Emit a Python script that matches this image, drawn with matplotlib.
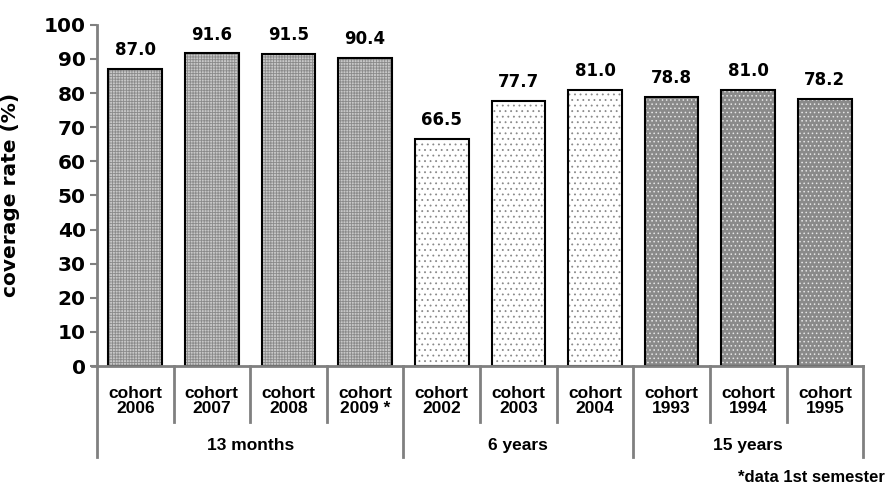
import matplotlib
matplotlib.use("Agg")
import matplotlib.pyplot as plt
import numpy as np

# --- données ---
cohortes = ["2006", "2007", "2008", "2009 *", "2002", "2003", "2004", "1993", "1994", "1995"]
couverture = [87.0, 91.6, 91.5, 90.4, 66.5, 77.7, 81.0, 78.8, 81.0, 78.2]
groupes = ["13 months", "6 years", "15 years"]
taille_groupes = [4, 3, 3]

# style par groupe : (fond, hachure, couleur hachure)
styles = [("#c8c8c8", "++++++", "#8a8a8a"),
          ("#ffffff", "...", "#8a8a8a"),
          ("#8a8a8a", "....", "#e6e6e6")]

plt.rcParams["hatch.linewidth"] = 0.6
gris = "#808080"

fig = plt.figure(figsize=(8.89, 4.96), dpi=100)
ax = fig.add_axes([0.109, 0.262, 0.862, 0.688])

x = np.arange(len(couverture))
idx_groupe = np.repeat(np.arange(len(groupes)), taille_groupes)

for xi, val, g in zip(x, couverture, idx_groupe):
    fond, hachure, coul = styles[g]
    ax.bar(xi, val, width=0.7, color=fond, hatch=hachure, edgecolor=coul, linewidth=0)
    ax.bar(xi, val, width=0.7, fill=False, edgecolor="black", linewidth=1.5)
    ax.annotate(f"{val:.1f}", (xi, val), xytext=(0, 7), textcoords="offset points",
                ha="center", va="bottom", fontsize=12, fontweight="bold",
                family="DejaVu Sans")

ax.set_xlim(-0.5, len(couverture) - 0.5)
ax.set_ylim(0, 100)
ax.set_yticks(np.arange(0, 101, 10))
ax.set_xticks([])
for lab in ax.get_yticklabels():
    lab.set_fontweight("bold")
ax.tick_params(axis="y", labelsize=14.5, length=5, width=1.5, color=gris, pad=3)

for s in ["top", "right"]:
    ax.spines[s].set_visible(False)
ax.spines["left"].set_color(gris)
ax.spines["left"].set_linewidth(2)
ax.spines["bottom"].set_visible(False)
# axe horizontal un peu prolongé à gauche
ax.plot([-0.57, len(couverture) - 0.5], [0, 0], color=gris, lw=2, clip_on=False)

ax.set_ylabel("coverage rate (%)", fontsize=14.5, fontweight="bold")
ax.yaxis.set_label_coords(-0.10, 0.5)

trans = ax.get_xaxis_transform()
# étiquettes de cohortes
for xi, c in zip(x, cohortes):
    ax.text(xi, -0.103, "cohort\n" + c, transform=trans, ha="center", va="center",
            fontsize=12.5, fontweight="bold", family="Liberation Sans", linespacing=1.05)

# séparateurs
bornes_groupes = np.concatenate([[0], np.cumsum(taille_groupes)]) - 0.5
for b in np.arange(len(couverture) + 1) - 0.5:
    bas = -0.267 if b in bornes_groupes else -0.164
    ax.plot([b, b], [0, bas], transform=trans, color=gris, lw=2, clip_on=False)

# noms de groupes
for g, nom in enumerate(groupes):
    centre = (bornes_groupes[g] + bornes_groupes[g + 1]) / 2
    ax.text(centre, -0.232, nom, transform=trans, ha="center", va="center",
            fontsize=12.5, fontweight="bold", family="Liberation Sans")

fig.text(0.995, 1 - 477 / 496, "*data 1st semester", ha="right", va="center",
         fontsize=12, fontweight="bold", family="Liberation Sans")

fig.savefig("out.png", dpi=100)
